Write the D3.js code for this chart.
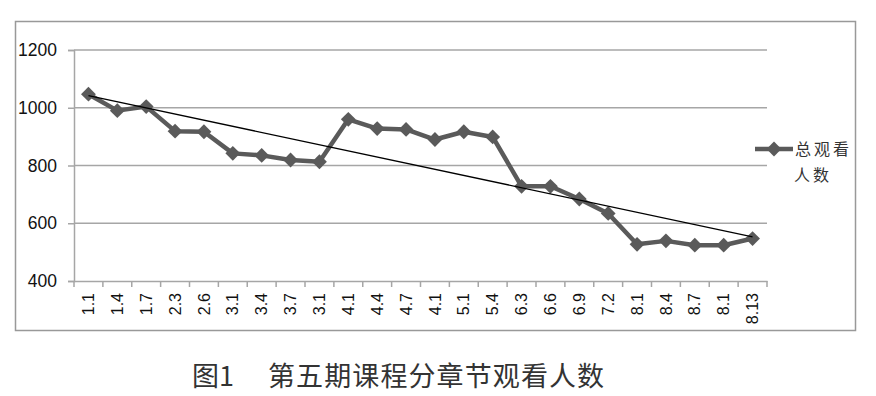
<!DOCTYPE html>
<html><head><meta charset="utf-8">
<script src="https://cdn.jsdelivr.net/npm/d3@7"></script>
<style>
html,body{margin:0;padding:0;background:#fff;}
svg{display:block;}
</style></head>
<body><svg id="c" width="876" height="396"></svg>
<script>
const categories = ["1.1","1.4","1.7","2.3","2.6","3.1","3.4","3.7","3.1","4.1","4.4","4.7","4.1","5.1","5.4","6.3","6.6","6.9","7.2","8.1","8.4","8.7","8.1","8.13"];
const viewers = [1047,990,1004,919,917,842,835,819,813,960,928,925,890,917,899,728,728,684,634,527,539,524,524,547];
const yTicks = [400,600,800,1000,1200];
const seriesName = ["总观看","人数"];
const titleNum = "图1";
const titleText = "第五期课程分章节观看人数";

const svg = d3.select("#c");
const L = 74, R = 767, T = 50, B = 281;
const x = d3.scaleBand().domain(d3.range(categories.length)).range([L, R]);
const y = d3.scaleLinear().domain([400,1200]).range([B, T]);
const cx = i => x(i) + x.bandwidth()/2;
const sans = "'Liberation Sans', Arial, sans-serif";

// outer border
svg.append("rect").attr("x",15.5).attr("y",21.5).attr("width",840).attr("height",309)
  .attr("fill","none").attr("stroke","#999").attr("stroke-width",1.5);

// gridlines
svg.append("g").selectAll("line").data(yTicks.filter(v=>v>400)).join("line")
  .attr("x1",L).attr("x2",R).attr("y1",d=>y(d)).attr("y2",d=>y(d))
  .attr("stroke","#a6a6a6").attr("stroke-width",1.5);

// y axis
const ya = svg.append("g").attr("transform",`translate(${L},0)`)
  .call(d3.axisLeft(y).tickValues(yTicks).tickFormat(d3.format("d")).tickSize(6).tickPadding(11));
ya.select(".domain").attr("stroke","#a6a6a6").attr("stroke-width",1.5);
ya.selectAll(".tick line").attr("stroke","#a6a6a6").attr("stroke-width",1.5);
ya.selectAll("text").attr("font-family",sans).attr("font-size",17.5).attr("fill","#111");

// x axis
const xa = svg.append("g").attr("transform",`translate(0,${B})`)
  .call(d3.axisBottom(x).tickFormat(i=>categories[i]).tickSize(0));
xa.select(".domain").attr("stroke","#a6a6a6").attr("stroke-width",1.5);
xa.selectAll(".tick line").remove();
xa.selectAll(".tick text")
  .attr("transform","rotate(-90)")
  .attr("x",-12).attr("y",0).attr("dy","0.35em")
  .attr("text-anchor","end")
  .attr("font-family",sans).attr("font-size",16).attr("fill","#111");
// boundary ticks
const bounds = d3.range(categories.length+1).map(i => i < categories.length ? x(i) : R);
svg.append("g").selectAll("line").data(bounds).join("line")
  .attr("x1",d=>d).attr("x2",d=>d).attr("y1",B).attr("y2",B+6)
  .attr("stroke","#a6a6a6").attr("stroke-width",1.5);

// series line
const line = d3.line().x((d,i)=>cx(i)).y(d=>y(d));
svg.append("path").datum(viewers).attr("d",line)
  .attr("fill","none").attr("stroke","#5a5a5a").attr("stroke-width",4.5).attr("stroke-linejoin","round");
const diamond = d3.symbol().type(d3.symbolDiamond2).size(140);
svg.append("g").selectAll("path").data(viewers).join("path")
  .attr("d",diamond).attr("transform",(d,i)=>`translate(${cx(i)},${y(d)})`)
  .attr("fill","#5a5a5a");

// linear trend line (least squares over index)
const n = viewers.length;
const xs = d3.range(n);
const mx = d3.mean(xs), my = d3.mean(viewers);
const slope = d3.sum(xs,(xi)=> (xi-mx)*(viewers[xi]-my)) / d3.sum(xs, xi=>(xi-mx)*(xi-mx));
const icpt = my - slope*mx;
svg.append("line")
  .attr("x1",cx(0)).attr("y1",y(icpt))
  .attr("x2",cx(n-1)).attr("y2",y(icpt+slope*(n-1)))
  .attr("stroke","#000").attr("stroke-width",1.3);

// legend
const lg = svg.append("g");
lg.append("line").attr("x1",755).attr("x2",793).attr("y1",149).attr("y2",149)
  .attr("stroke","#5a5a5a").attr("stroke-width",4.5);
lg.append("path").attr("d",diamond).attr("transform","translate(774,149)").attr("fill","#5a5a5a");
lg.selectAll("text").data(seriesName).join("text")
  .attr("x",(d,i)=> i===0 ? 795 : 794).attr("y",(d,i)=>155+i*26)
  .attr("font-family","'Noto Sans CJK SC', sans-serif").attr("font-size",16).attr("letter-spacing",3)
  .attr("fill","#333").text(d=>d);

// title
const tf = "'Noto Sans CJK SC', sans-serif";
svg.append("text").attr("x",192).attr("y",386).attr("font-family",tf).attr("font-size",27)
  .attr("fill","#333").text(titleNum);
svg.append("text").attr("x",268).attr("y",386).attr("font-family",tf).attr("font-size",27)
  .attr("letter-spacing",1.1).attr("fill","#333").text(titleText);
</script></body></html>
